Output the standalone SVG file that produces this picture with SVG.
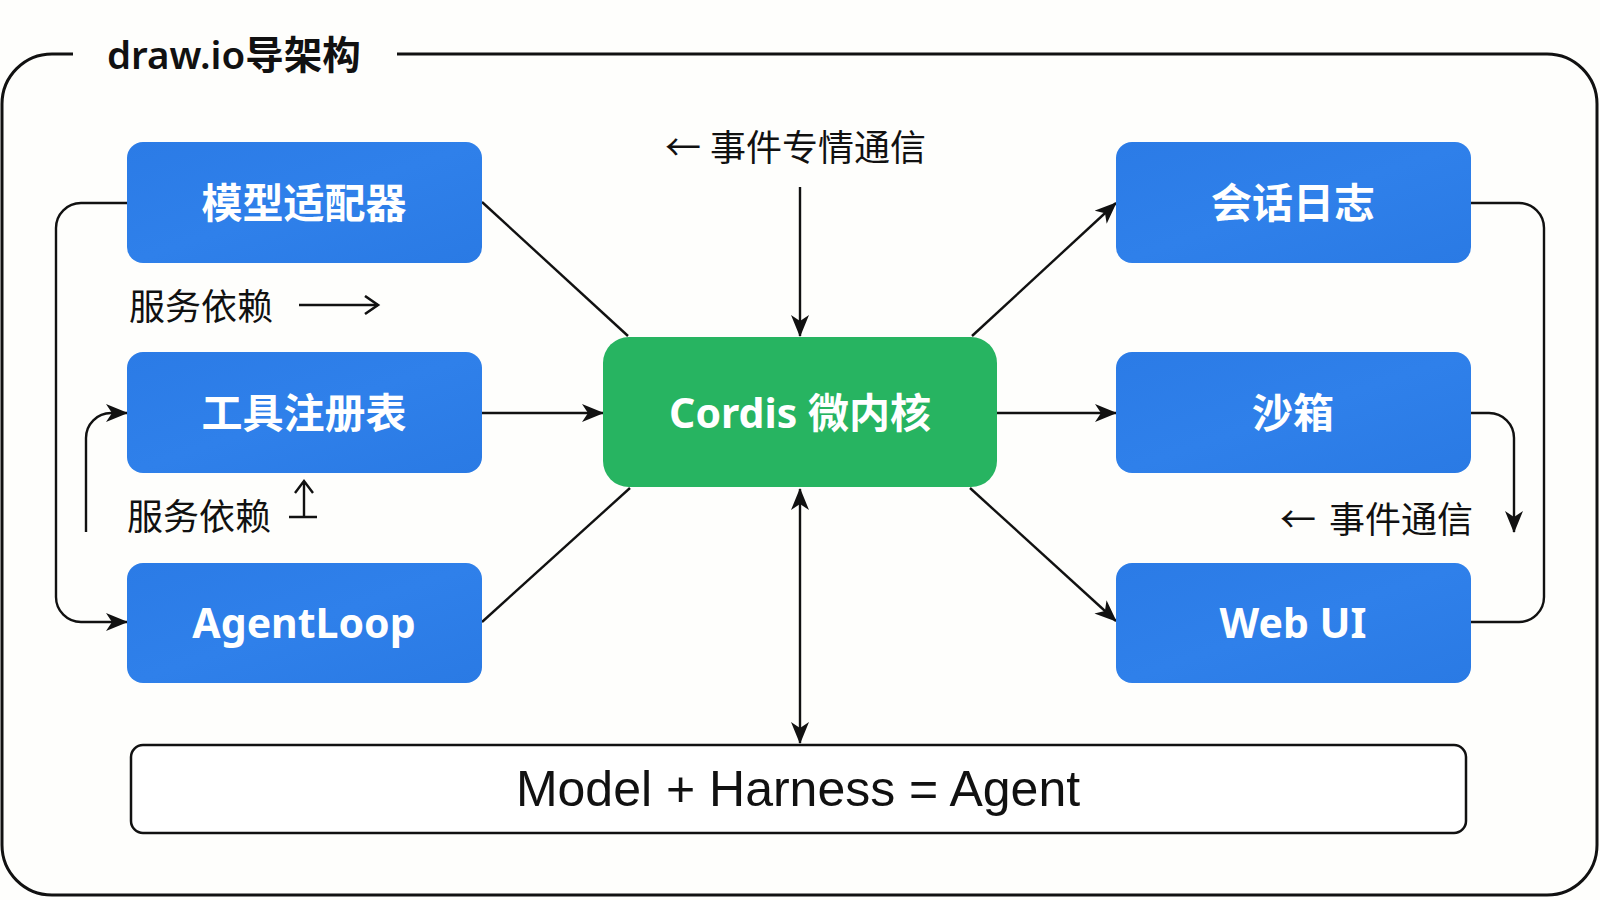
<svg xmlns="http://www.w3.org/2000/svg" width="1600" height="900" viewBox="0 0 1600 900">
<defs>
<marker id="ah" markerUnits="userSpaceOnUse" markerWidth="24" markerHeight="20" refX="21" refY="9" orient="auto-start-reverse">
<path d="M0,0 L22,9 L0,18 L6,9 Z" fill="#111"/>
</marker>
<marker id="oh" markerUnits="userSpaceOnUse" markerWidth="18" markerHeight="22" refX="14" refY="10" orient="auto">
<path d="M1,1 L14,10 L1,19" fill="none" stroke="#111" stroke-width="2.6"/>
</marker>
<linearGradient id="gb" x1="0" y1="0" x2="1" y2="1">
<stop offset="0" stop-color="#2b7be6"/><stop offset="0.5" stop-color="#2f80ea"/><stop offset="1" stop-color="#2a7ae4"/>
</linearGradient>
</defs>
<style>
.frame{fill:none;stroke:#111;stroke-width:3}
.blue{fill:url(#gb)}
.green{fill:#27b461}
.nt{font-family:"Noto Sans","Noto Sans CJK SC",sans-serif;font-weight:700;font-size:41px;fill:#fff;text-anchor:middle;dominant-baseline:central}
.lbl{font-family:"Noto Sans CJK SC","Noto Sans",sans-serif;font-size:36px;fill:#111;dominant-baseline:central}
.c{fill:none;stroke:#111;stroke-width:2.4}
.arr{marker-end:url(#ah)}
</style>
<rect width="1600" height="900" fill="#fefefc"/>
<g id="frame">
<path class="frame" d="M73,54 L52,54 A50,50 0 0 0 2,104 L2,845 A50,50 0 0 0 52,895 L1547,895 A50,50 0 0 0 1597,845 L1597,104 A50,50 0 0 0 1547,54 L397,54"/>
<text x="107" y="54" style="font-family:'Noto Sans','Noto Sans CJK SC',sans-serif;font-weight:600;font-size:38.5px;fill:#111;dominant-baseline:central">draw.io导架构</text>
</g>
<g id="connectors">
<line class="c" x1="482" y1="202" x2="628" y2="336"/>
<line class="c arr" x1="482" y1="413" x2="603" y2="413"/>
<line class="c" x1="482" y1="622" x2="630" y2="488"/>
<line class="c arr" x1="972" y1="336" x2="1116" y2="203"/>
<line class="c arr" x1="997" y1="413" x2="1116" y2="413"/>
<line class="c arr" x1="970" y1="488" x2="1116" y2="621"/>
<line class="c arr" x1="800" y1="187" x2="800" y2="336"/>
<line class="c" x1="800" y1="489" x2="800" y2="743" marker-start="url(#ah)" marker-end="url(#ah)"/>
<path class="c arr" d="M127,203 L81,203 A25,25 0 0 0 56,228 L56,597 A25,25 0 0 0 81,622 L127,622"/>
<path class="c arr" d="M86,532 L86,438 A25,25 0 0 1 111,413 L127,413"/>
<path class="c" d="M1471,203 L1519,203 A25,25 0 0 1 1544,228 L1544,597 A25,25 0 0 1 1519,622 L1471,622"/>
<path class="c arr" d="M1471,413 L1489,413 A25,25 0 0 1 1514,438 L1514,532"/>
</g>
<g id="n-model"><rect class="blue" x="127" y="142" width="355" height="121" rx="16"/><text class="nt" x="304" y="202">模型适配器</text></g>
<g id="n-tools"><rect class="blue" x="127" y="352" width="355" height="121" rx="16"/><text class="nt" x="304" y="412">工具注册表</text></g>
<g id="n-agentloop"><rect class="blue" x="127" y="563" width="355" height="120" rx="16"/><text class="nt" x="304" y="622">AgentLoop</text></g>
<g id="n-core"><rect class="green" x="603" y="337" width="394" height="150" rx="26"/><text class="nt" x="800" y="412">Cordis 微内核</text></g>
<g id="n-session"><rect class="blue" x="1116" y="142" width="355" height="121" rx="16"/><text class="nt" x="1293" y="202">会话日志</text></g>
<g id="n-sandbox"><rect class="blue" x="1116" y="352" width="355" height="121" rx="16"/><text class="nt" x="1293" y="412">沙箱</text></g>
<g id="n-webui"><rect class="blue" x="1116" y="563" width="355" height="120" rx="16"/><text class="nt" x="1293" y="622">Web UI</text></g>
<g id="n-formula"><rect x="131" y="745" width="1335" height="88" rx="12" fill="#fff" stroke="#111" stroke-width="2.5"/><text x="798" y="789" style="font-family:'Liberation Sans','Noto Sans CJK SC',sans-serif;font-size:50px;fill:#111;text-anchor:middle;dominant-baseline:central">Model + Harness = Agent</text></g>
<g id="labels">
<text class="lbl" x="129" y="304">服务依赖</text>
<line x1="299" y1="305" x2="378" y2="305" class="c" marker-end="url(#oh)"/>
<text class="lbl" x="127" y="514">服务依赖</text>
<path class="c" d="M289,517 L317,517 M304,517 L304,482 M295,493 L304,481 L313,493"/>
<text class="lbl" x="665" y="145">←<tspan x="710">事件专情通信</tspan></text>
<text class="lbl" x="1280" y="517">←<tspan x="1329">事件通信</tspan></text>
</g>
</svg>
